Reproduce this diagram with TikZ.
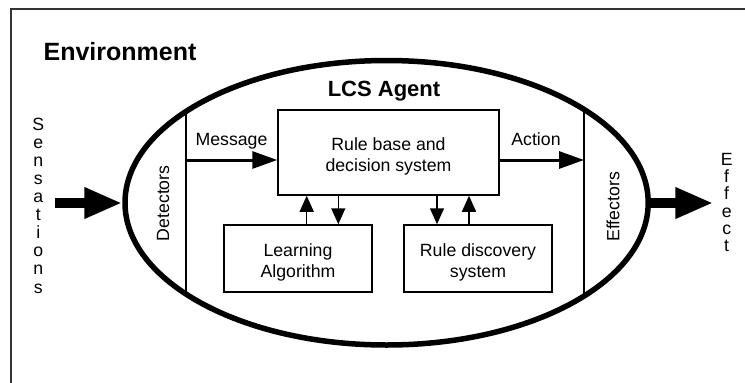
\documentclass[tikz,border=0pt]{standalone}
\usepackage{fontspec}
\setmainfont{Liberation Sans}
\usetikzlibrary{arrows.meta,shapes.geometric}
\begin{document}
\begin{tikzpicture}[x=1pt,y=-1pt,
  txt/.style={font=\fontsize{17.7}{21}\selectfont, inner sep=0pt, align=center},
  title/.style={font=\bfseries\fontsize{#1}{#1}\selectfont, inner sep=0pt, anchor=base},
  compbox/.style={draw, line width=1.5pt, inner sep=0pt, minimum width=#1},
  frameline/.style={draw=black!80, line width=1.2pt},
  partline/.style={line width=1.5pt},
  bigarrow/.style={line width=9.5pt, -{Triangle[length=38pt,width=29pt]}},
  midarrow/.style={line width=3pt, -{Triangle[length=25pt,width=17pt]}},
  smallarrow/.style={line width=1.5pt, -{Triangle[length=16pt,width=14pt]}},
  letters/.style={font=\fontsize{17.7}{#1}\selectfont, inner sep=0pt, align=center}
]
\useasboundingbox (0,0) rectangle (745,383);

% environment frame (open to the right and bottom)
\draw[frameline] (11,383) -- (11,9) -- (745,9);
\node[title=25] (env) at (120,60) {Environment};

% the agent
\node[ellipse, draw, line width=5.5pt, minimum width=523.2pt, minimum height=284.5pt,
      inner sep=0pt] (agent) at (386.6,202.75) {};
\node[title=22] (lcs) at (384,96) {LCS Agent};

% detector and effector partitions
\coordinate (detTop) at (186,111.4);
\coordinate (detBot) at (186,294.1);
\coordinate (effTop) at (584,109.4);
\coordinate (effBot) at (584,296.1);
\draw[partline] (detTop) -- (detBot);
\draw[partline] (effTop) -- (effBot);
\node[txt, rotate=90] (det) at (163,203.3) {Detectors};
\node[txt, rotate=90] (eff) at (613,206.7) {Effectors};

% components
\node[compbox=221pt, minimum height=85pt] (rule) at (388.5,152.5) {};
\node[txt] (ruletxt) at ([yshift=-4pt]rule.center) {Rule base and\\decision system};
\node[compbox=148pt, minimum height=67pt] (learn) at (298,258.5) {};
\node[txt] (learntxt) at ([yshift=-4pt]learn.center) {Learning\\Algorithm};
\node[compbox=148pt, minimum height=67pt] (disc) at (478,258.5) {};
\node[txt] (disctxt) at ([yshift=-4pt]disc.center) {Rule discovery\\system};

% message and action flow
\coordinate (msgStart) at (186,160);
\coordinate (actEnd) at (584,160);
\draw[midarrow] (msgStart) -- (msgStart -| rule.west);
\draw[midarrow] (actEnd -| rule.east) -- (actEnd);
\node[txt, anchor=base] (msg) at (231.5,145) {Message};
\node[txt, anchor=base] (act) at (536,145.7) {Action};

% links between the rule base and the two learning components
\coordinate (c1) at (306.7,0);
\coordinate (c2) at (338.3,0);
\coordinate (c3) at (437,0);
\coordinate (c4) at (469,0);
\draw[smallarrow] (c1 |- learn.north) -- (c1 |- rule.south);
\draw[smallarrow] (c2 |- rule.south) -- (c2 |- learn.north);
\draw[smallarrow] (c3 |- rule.south) -- (c3 |- disc.north);
\draw[smallarrow] (c4 |- disc.north) -- (c4 |- rule.south);

% input and output
\coordinate (sensStart) at (55,203);
\coordinate (effTip) at (713.3,203);
\draw[bigarrow] (sensStart) -- (sensStart -| agent.west);
\draw[bigarrow] (agent.east |- effTip) -- (effTip);
\node[letters=18.1] (sens) at (38.3,205.5) {S\\e\\n\\s\\a\\t\\i\\o\\n\\s};
\node[letters=17.3] (effect) at (726.7,202.5) {E\\f\\f\\e\\c\\t};
\end{tikzpicture}
\end{document}
